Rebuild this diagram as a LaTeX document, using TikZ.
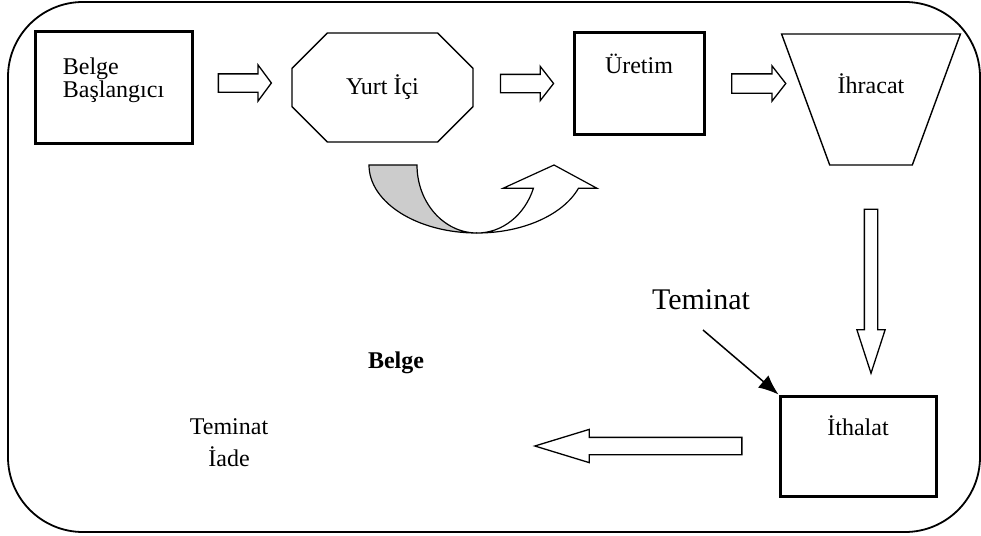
\documentclass[tikz,border=0pt]{standalone}
\usepackage{fontspec}
\setmainfont{Liberation Serif}
\usetikzlibrary{arrows.meta,shapes.geometric,shapes.misc,shapes.arrows}

\begin{document}
\begin{tikzpicture}[x=1pt,y=-1pt,
    every node/.style={font=\fontsize{24}{23}\selectfont, inner sep=0pt},
    box/.style={draw, rectangle, line width=3pt},
    octa/.style={draw, chamfered rectangle, chamfered rectangle xsep=23pt, chamfered rectangle ysep=23pt, line width=1.4pt},
    trap/.style={draw, trapezium, trapezium angle=73.5, trapezium stretches=true, shape border rotate=180, line width=1.4pt},
    blockarrow/.style={draw, single arrow, single arrow head indent=0pt, line width=1.3pt}]
  \useasboundingbox (0,0) rectangle (981,535);
  \draw[line width=1.8pt, rounded corners=75pt] (8,2) rectangle (980,532);

  % top row
  \node[box, minimum width=157pt, align=left, text height=65pt, text depth=46pt] (start) at (113.5,87.5) {Belge\\Başlangıcı};
  \node[octa, minimum width=181pt, minimum height=109pt] (yurt) at (382.5,87.5) {Yurt İçi};
  \node[box, minimum width=130pt, text height=40pt, text depth=61pt] (uretim) at (639,83.5) {Üretim};
  \node[trap, minimum width=179pt, text height=59pt, text depth=72pt] (ihracat) at (871,99.5) {İhracat};

  \node[blockarrow, minimum height=53pt, text height=8.5pt, text depth=8.5pt, single arrow head extend=9pt, single arrow tip angle=107] (a1) at (241.5,83) {};
  \node[blockarrow, minimum height=53pt, text height=8.5pt, text depth=8.5pt, single arrow head extend=8pt, single arrow tip angle=104] (a2) at (523.5,83.5) {};
  \node[blockarrow, minimum height=54pt, text height=9pt, text depth=9pt, single arrow head extend=8pt, single arrow tip angle=104] (a3) at (755,83.5) {};

  % curved arrow under Yurt Ici
  \filldraw[fill=gray!40, line width=1.2pt] (369,165) arc[start angle=180, end angle=90, x radius=108, y radius=68]
    arc[start angle=90, end angle=180, x radius=60, y radius=68] -- cycle;
  \draw[fill=white, line width=1.2pt] (477,233) arc[start angle=90, end angle=20, x radius=108, y radius=68]
    -- (597,188.3) -- (554,165) -- (503,188.3) -- (533.4,188.3)
    arc[start angle=20, end angle=90, x radius=60, y radius=68] -- cycle;

  % right side and bottom row
  \node[blockarrow, rotate=-90, minimum height=164pt, text height=6pt, text depth=6pt, single arrow head extend=7.5pt, single arrow tip angle=36] (a4) at (871,281) {};
  \node[box, minimum width=156pt, text height=39pt, text depth=61pt] (ithalat) at (858,446) {İthalat};
  \node[blockarrow, rotate=180, minimum height=207pt, text height=8pt, text depth=8pt, single arrow head extend=8pt, single arrow tip angle=34] (a5) at (652.5,446) {};

  \node[font=\fontsize{30}{30}\selectfont, anchor=base] (teminat) at (701,309) {Teminat};
  \coordinate (tem tail) at (703,330);
  \draw[line width=1.5pt, -{Latex[length=20pt,width=16pt]}] (tem tail) -- (ithalat.north west);

  \node[font=\fontsize{24}{23}\selectfont\bfseries, anchor=base] (belge) at (396,368) {Belge};
  \node[align=center, font=\fontsize{24}{32}\selectfont] (iade) at (229,443) {Teminat\\İade};
\end{tikzpicture}
\end{document}
